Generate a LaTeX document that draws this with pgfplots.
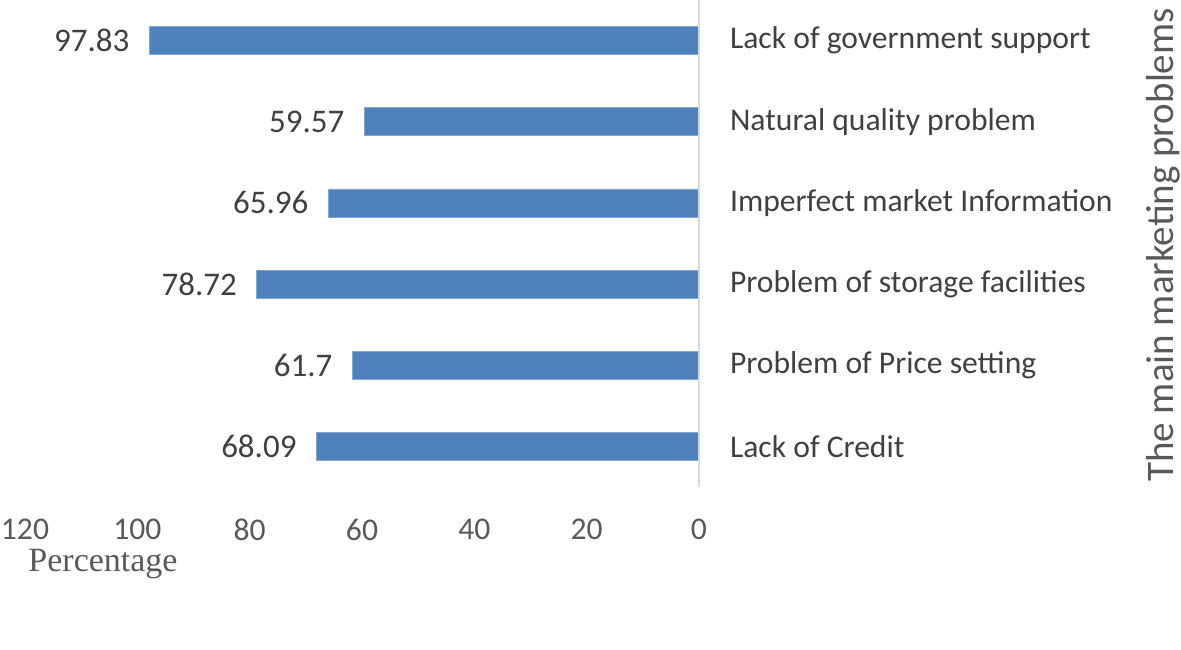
\documentclass[border=0pt]{standalone}
\usepackage{fontspec}
\setmainfont{Carlito}
\newfontfamily\serifcap{Liberation Serif}
\usepackage{pgfplots}
\pgfplotsset{compat=1.18}
\definecolor{barblue}{HTML}{4F81BD}
\definecolor{txtgray}{HTML}{404040}
\definecolor{tickgray}{HTML}{595959}
\definecolor{linegray}{HTML}{D9D9D9}

\pgfplotstableread{
y val
1 68.09
2 61.7
3 78.72
4 65.96
5 59.57
6 97.83
}\problems

\begin{document}
\begin{tikzpicture}
\path[use as bounding box] (-12.5pt,-81pt) rectangle (578pt,243.5pt);
\begin{axis}[
    xbar,
    scale only axis,
    width=337pt,
    height=243.5pt,
    x dir=reverse,
    xmin=0, xmax=120,
    ymin=0.5, ymax=6.5,
    xtick={0,20,...,120},
    ytick={1,...,6},
    yticklabels={Lack of Credit, Problem of Price setting, Problem of storage facilities, Imperfect market Information, Natural quality problem, Lack of government support},
    yticklabel pos=right,
    axis line style={draw=none},
    major tick length=0pt,
    /pgf/number format/assume math mode=true,
    ticklabel style={font=\fontsize{15.8}{19}\selectfont},
    xticklabel style={text=tickgray, yshift=-15pt, inner sep=1pt},
    yticklabel style={text=txtgray, anchor=west, xshift=12pt},
    bar width=14pt,
    nodes near coords={\pgfmathprintnumber[fixed, precision=2]{\pgfplotspointmeta}},
    point meta=x,
    every node near coord/.append style={anchor=east, xshift=-6.5pt, text=txtgray, font=\fontsize{16.5}{19}\selectfont},
    clip=false,
]
\addplot[fill=barblue, draw=barblue!70!white] table[x=val, y=y] {\problems};
\draw[linegray, line width=1pt] (axis cs:0,0.5) -- (axis cs:0,6.5);
\end{axis}
\node[inner sep=0pt, text=tickgray, font=\serifcap\fontsize{17}{20}\selectfont] at (39pt,-38.5pt) {Percentage};
\node[rotate=90, text=tickgray, font=\fontsize{19.5}{22}\selectfont] at (569pt,121pt) {The main marketing problems};
\end{tikzpicture}
\end{document}
